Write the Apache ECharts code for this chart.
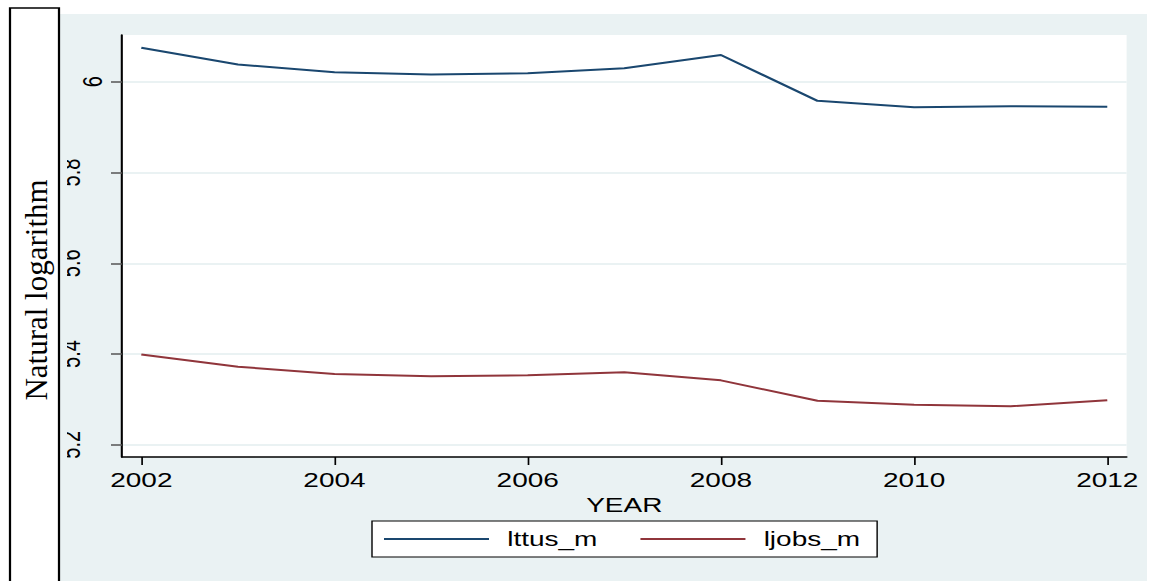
<!DOCTYPE html>
<html>
<head>
<meta charset="utf-8">
<script src="https://cdn.jsdelivr.net/npm/echarts@6/dist/echarts.min.js"></script>
<style>
  html, body { margin: 0; padding: 0; background: #fff; overflow: hidden; }
  /* the Stata export is stretched sideways, so draw narrow and stretch */
  #chart { width: 824.29px; height: 581px; transform: scaleX(1.4); transform-origin: 0 0; }
</style>
</head>
<body>
<div id="chart"></div>
<script>
var years = [2002, 2003, 2004, 2005, 2006, 2007, 2008, 2009, 2010, 2011, 2012]
var lttus = [6.075, 6.038, 6.021, 6.016, 6.019, 6.030, 6.059, 5.958, 5.944, 5.946, 5.945]
var ljobs = [5.399, 5.372, 5.356, 5.351, 5.353, 5.360, 5.342, 5.297, 5.288, 5.285, 5.298]
var xTicks = [2002, 2004, 2006, 2008, 2010, 2012]
var yTicks = [5.2, 5.4, 5.6, 5.8, 6]

var SX = 1.4
function px(x) {
  return x / SX
}

var font = 'Liberation Sans'
var chart = echarts.init(document.getElementById('chart'), null, { renderer: 'svg' })

var option = {
  animation: false,
  backgroundColor: '#fff',
  grid: {
    left: px(122),
    right: px(27),
    top: 35,
    bottom: 124,
    show: true,
    backgroundColor: '#fff',
    borderWidth: 0
  },
  legend: {
    left: px(372),
    top: 521,
    backgroundColor: '#fff',
    borderColor: '#000',
    borderWidth: 1,
    borderRadius: 0,
    padding: [8, px(17), 8, px(12)],
    icon: 'rect',
    itemWidth: px(105),
    itemHeight: 2,
    itemGap: px(43),
    textStyle: { fontFamily: font, fontSize: 20, color: '#000', padding: [0, 0, 0, 8] },
    data: ['lttus_m', 'ljobs_m']
  },
  xAxis: {
    type: 'value',
    min: 2001.8,
    max: 2012.2,
    name: 'YEAR',
    nameLocation: 'middle',
    nameGap: 33,
    nameTextStyle: { fontFamily: font, fontSize: 20, color: '#000' },
    axisLine: { show: true, lineStyle: { color: '#000', width: 1.5 } },
    axisTick: { show: true, customValues: xTicks, length: 8, lineStyle: { color: '#000', width: 1.2 } },
    axisLabel: {
      customValues: xTicks,
      margin: 13,
      fontFamily: font,
      fontSize: 20,
      color: '#000',
      formatter: function(v) { return String(v) }
    },
    splitLine: { show: false }
  },
  yAxis: {
    type: 'value',
    min: 5.1731,
    max: 6.1031,
    axisLine: { show: true, lineStyle: { color: '#000', width: 1.5 } },
    axisTick: { show: true, customValues: yTicks, length: px(11), lineStyle: { color: '#555', width: 1.5 } },
    axisLabel: {
      customValues: yTicks,
      rotate: 90,
      margin: 11,
      fontFamily: font,
      fontSize: 20,
      color: '#000',
      formatter: function(v) {
        return v === 6 ? '{a|6}' : '{b|' + v.toFixed(1) + '}'
      },
      rich: {
        a: { fontFamily: font, fontSize: 20, color: '#000' },
        b: { fontFamily: font, fontSize: 20, color: '#000', padding: [0, 0, 16, 0] }
      }
    },
    splitLine: { show: true, lineStyle: { color: '#EAF2F3', width: 2 } }
  },
  graphic: [
    {
      type: 'rect',
      z: -10,
      shape: { x: px(60), y: 14, width: px(1087), height: 600 },
      style: { fill: '#EAF2F3' }
    },
    {
      type: 'rect',
      z: 100,
      shape: { x: px(59), y: 110, width: px(8), height: 360 },
      style: { fill: '#EAF2F3' }
    },
    {
      type: 'rect',
      z: 100,
      shape: { x: px(10), y: 8, width: px(49), height: 600 },
      style: { fill: '#fff', stroke: '#000', lineWidth: 1.6 }
    },
    {
      type: 'text',
      z: 101,
      x: px(37),
      y: 290,
      rotation: Math.PI / 2,
      scaleY: 1 / SX,
      style: {
        text: 'Natural logarithm',
        fontFamily: 'Liberation Serif',
        fontSize: 31,
        fill: '#000',
        align: 'center',
        verticalAlign: 'middle',
        textAlign: 'center',
        textVerticalAlign: 'middle'
      }
    }
  ],
  series: [
    {
      name: 'lttus_m',
      type: 'line',
      symbol: 'none',
      data: years.map(function(y, i) { return [y, lttus[i]] }),
      lineStyle: { color: '#1A476F', width: 2 },
      itemStyle: { color: '#1A476F' }
    },
    {
      name: 'ljobs_m',
      type: 'line',
      symbol: 'none',
      data: years.map(function(y, i) { return [y, ljobs[i]] }),
      lineStyle: { color: '#90353B', width: 2 },
      itemStyle: { color: '#90353B' }
    }
  ]
}

chart.setOption(option)
</script>
</body>
</html>
